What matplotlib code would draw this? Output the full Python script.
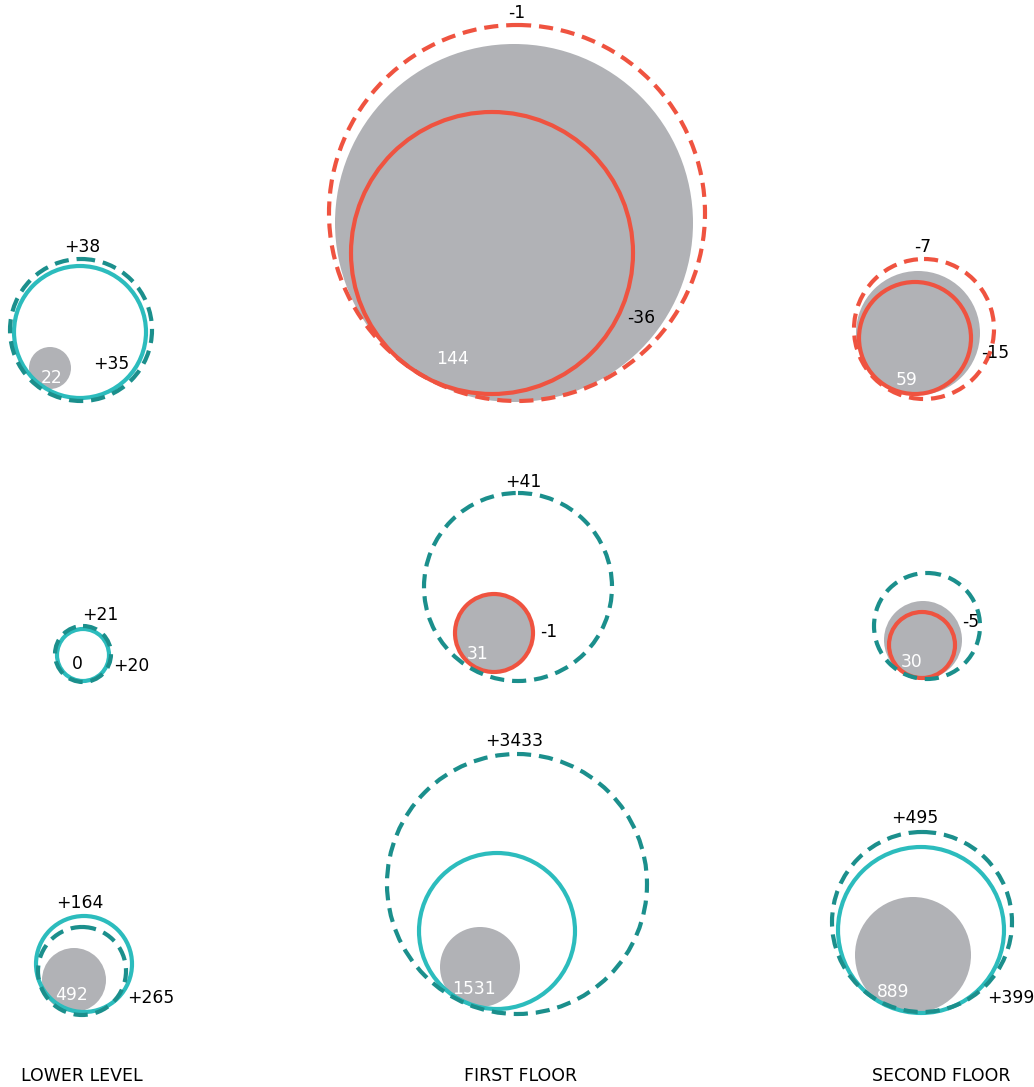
import matplotlib.pyplot as plt
from matplotlib.patches import Circle

plt.rcParams['font.family'] = ['DejaVu Sans']

# ---------------- data ----------------
floors = ['LOWER LEVEL', 'FIRST FLOOR', 'SECOND FLOOR']
# per floor, rows top -> bottom
base_counts = [[22, 0, 492], [144, 31, 1531], [59, 30, 889]]
dashed_change = [[38, 21, 164], [-1, 41, 3433], [-7, None, 495]]
solid_change = [[35, 20, 265], [-36, -1, None], [-15, -5, 399]]

# circle radii (px)
gray_r = [[21, 0, 32], [179, 38, 40], [62, 39, 58]]
solid_r = [[66, 26, 48], [141, 39, 78], [56, 33, 83]]
dashed_r = [[71, 28, 44], [188, 94, 130], [70, 53, 90]]

# ---------------- layout (pixel coords, y down) ----------------
gray_c = [[(50, 368), (83, 655), (74, 980)],
          [(514, 223), (494, 633), (480, 967)],
          [(918, 333), (923, 640), (913, 955)]]
solid_c = [[(80, 332), (83, 655), (84, 964)],
           [(492, 253), (494, 633), (497, 931)],
           [(915, 338), (922, 645), (921, 930)]]
dashed_c = [[(81, 330), (83, 654), (82, 971)],
            [(517, 213), (518, 587), (517, 884)],
            [(924, 329), (927, 626), (922, 922)]]
base_lbl = [[(52, 378), (77, 664), (72, 995)],
            [(452, 359), (478, 654), (474, 989)],
            [(907, 380), (912, 662), (893, 992)]]
dashed_lbl = [[(82, 247), (100, 615), (80, 903)],
              [(517, 13), (523, 482), (514, 741)],
              [(923, 247), None, (915, 818)]]
solid_lbl = [[(93, 364), (113, 666), (127, 998)],
             [(627, 318), (540, 632), None],
             [(981, 353), (962, 622), (987, 998)]]
floor_x = [82, 521, 941]

GRAY = '#b1b2b6'
RED = '#ef5340'
TEAL = '#2cbcbd'
DTEAL = '#1b8f8c'
LW = 3.0
FS = 12.3

fig = plt.figure(figsize=(10.34, 10.87), dpi=100)
ax = fig.add_axes([0, 0, 1, 1])
ax.set_xlim(0, 1034)
ax.set_ylim(1087, 0)
ax.set_aspect('equal')
ax.axis('off')


def fmt(v):
    return f'+{v}' if v > 0 else str(v)


for i in range(len(floors)):
    for j in range(3):
        if gray_r[i][j] > 0:
            ax.add_patch(Circle(gray_c[i][j], gray_r[i][j], color=GRAY, lw=0, zorder=1))
        sc = solid_change[i][j]
        s_col = RED if (sc is not None and sc < 0) else TEAL
        ax.add_patch(Circle(solid_c[i][j], solid_r[i][j], fill=False, ec=s_col, lw=LW, zorder=2))
        dc = dashed_change[i][j]
        d_col = RED if (dc is not None and dc < 0) else DTEAL
        ax.add_patch(Circle(dashed_c[i][j], dashed_r[i][j], fill=False, ec=d_col, lw=LW,
                            linestyle=(0, (3.4, 1.9)), zorder=3))

        # labels
        bx, by = base_lbl[i][j]
        ax.text(bx, by, str(base_counts[i][j]), ha='center', va='center', fontsize=FS,
                color='white' if gray_r[i][j] > 0 else 'black', zorder=5)
        if dc is not None:
            x, y = dashed_lbl[i][j]
            ax.text(x, y, fmt(dc), ha='center', va='center', fontsize=FS, color='black', zorder=5)
        if sc is not None:
            x, y = solid_lbl[i][j]
            ax.text(x, y, fmt(sc), ha='left', va='center', fontsize=FS, color='black', zorder=5)

    ax.text(floor_x[i], 1076, floors[i], ha='center', va='center', fontsize=12.5, color='black')

fig.savefig('out.png', dpi=100)
